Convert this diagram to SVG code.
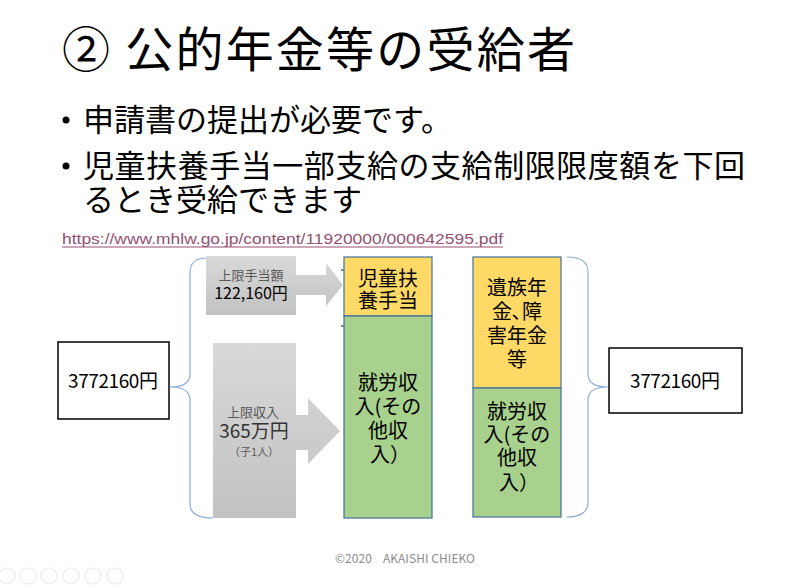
<svg xmlns="http://www.w3.org/2000/svg" width="800" height="588" viewBox="0 0 800 588">
<defs>
<linearGradient id="gray" x1="0" y1="0" x2="0" y2="1">
<stop offset="0" stop-color="#d9d9d9"/>
<stop offset="1" stop-color="#c2c2c2"/>
</linearGradient>
<style>
.jp{font-family:"Noto Sans CJK JP","Noto Sans",sans-serif;}
.title{font-size:48px;fill:#000;}
.bul{font-size:31px;fill:#000;}
.col{font-size:20px;fill:#000;text-anchor:middle;}
.num{font-size:19px;fill:#000;text-anchor:middle;}
.gs{fill:#595959;text-anchor:middle;}
.brace{fill:none;stroke:#8faadc;stroke-width:1.2;}
.cbox{stroke:#41719c;stroke-width:1.2;}
.icon{fill:none;stroke:#ebebeb;stroke-width:1.2;}
</style>
</defs>
<rect width="800" height="588" fill="#fff"/>

<g id="title"><text class="jp title" x="62" y="67" textLength="513" lengthAdjust="spacing">② 公的年金等の受給者</text></g>

<g id="bullets">
<circle cx="66" cy="120" r="3.5" fill="#000"/>
<text class="jp bul" x="83" y="131">申請書の提出が必要です。</text>
<circle cx="66" cy="166" r="3.5" fill="#000"/>
<text class="jp bul" x="83" y="177" textLength="662" lengthAdjust="spacing">児童扶養手当一部支給の支給制限限度額を下回</text>
<text class="jp bul" x="83" y="211">るとき受給できます</text>
</g>

<g id="url">
<text x="62" y="244" font-family="Liberation Sans, Arial, sans-serif" font-size="15" fill="#954f72" textLength="441" lengthAdjust="spacingAndGlyphs">https://www.mhlw.go.jp/content/11920000/000642595.pdf</text>
<line x1="62" y1="247" x2="503" y2="247" stroke="#954f72" stroke-width="1"/>
</g>

<g id="connectors">
<path class="brace" d="M206,258 C195,258 190,263 190,273 L190,374 C190,383 183,387 170,387 C183,387 190,391 190,400 L190,504 C190,513 197,518 213,518"/>
<path class="brace" d="M567,257 C580,257 588,262 588,272 L588,374 C588,383 595,387 608,387 C595,387 588,391 588,400 L588,503 C588,512 580,517 567,517"/>
<line x1="341" y1="270" x2="345" y2="270" stroke="#41719c" stroke-width="1.5"/>
<line x1="341" y1="326" x2="345" y2="326" stroke="#41719c" stroke-width="1.5"/>
</g>

<g id="left-total">
<rect x="58" y="342" width="111" height="77" fill="#fff" stroke="#000" stroke-width="1.5"/>
<text class="jp num" x="113" y="388" textLength="90">3772160円</text>
</g>

<g id="callout-allowance">
<path d="M206,256 H296 V275 H326 V263 L343,285 L326,306 V295 H296 V315 H206 Z" fill="url(#gray)"/>
<text class="jp gs" x="251" y="280" font-size="13">上限手当額</text>
<text class="jp" x="251" y="299" font-size="16" fill="#000" text-anchor="middle">122,160円</text>
</g>

<g id="callout-income">
<path d="M213,343 H296 V415 H308 V398 L340,431 L308,464 V450 H296 V518 H213 Z" fill="url(#gray)"/>
<text class="jp gs" x="253" y="417" font-size="13">上限収入</text>
<text class="jp" x="254" y="438" font-size="19" fill="#333" text-anchor="middle">365万円</text>
<text class="jp gs" x="254" y="456" font-size="11">（子1人）</text>
</g>

<g id="col1-allowance">
<rect class="cbox" x="344" y="257" width="88" height="59" fill="#ffd966"/>
<text class="jp col" x="388" y="286">児童扶</text>
<text class="jp col" x="388" y="308">養手当</text>
</g>
<g id="col1-income">
<rect class="cbox" x="344" y="316" width="88" height="202" fill="#a9d18e"/>
<text class="jp col" x="388" y="390">就労収</text>
<text class="jp col" x="388" y="414">入(その</text>
<text class="jp col" x="388" y="438">他収</text>
<text class="jp col" x="390" y="462">入）</text>
</g>

<g id="col2-pension">
<rect class="cbox" x="473" y="257" width="88" height="131" fill="#ffd966"/>
<text class="jp col" x="517" y="295">遺族年</text>
<text class="jp col" x="517" y="319">金､障</text>
<text class="jp col" x="517" y="343">害年金</text>
<text class="jp col" x="517" y="367">等</text>
</g>
<g id="col2-income">
<rect class="cbox" x="473" y="388" width="88" height="129" fill="#a9d18e"/>
<text class="jp col" x="517" y="419">就労収</text>
<text class="jp col" x="517" y="442">入(その</text>
<text class="jp col" x="517" y="465">他収</text>
<text class="jp col" x="519" y="490">入）</text>
</g>

<g id="right-total">
<rect x="609" y="348" width="133" height="65" fill="#fff" stroke="#000" stroke-width="1.5"/>
<text class="jp num" x="675" y="388" textLength="90">3772160円</text>
</g>

<g id="footer">
<text x="405" y="563" font-family="Noto Sans CJK JP, Noto Sans, sans-serif" font-size="12" fill="#8c8c8c" text-anchor="middle" textLength="140" xml:space="preserve">©2020    AKAISHI CHIEKO</text>
</g>

<g id="toolbar">
<circle class="icon" cx="7" cy="576" r="8"/>
<circle class="icon" cx="28" cy="576" r="8"/>
<circle class="icon" cx="49" cy="576" r="8"/>
<circle class="icon" cx="71" cy="576" r="8"/>
<circle class="icon" cx="93" cy="576" r="8"/>
<circle class="icon" cx="115" cy="576" r="8"/>
</g>
</svg>
